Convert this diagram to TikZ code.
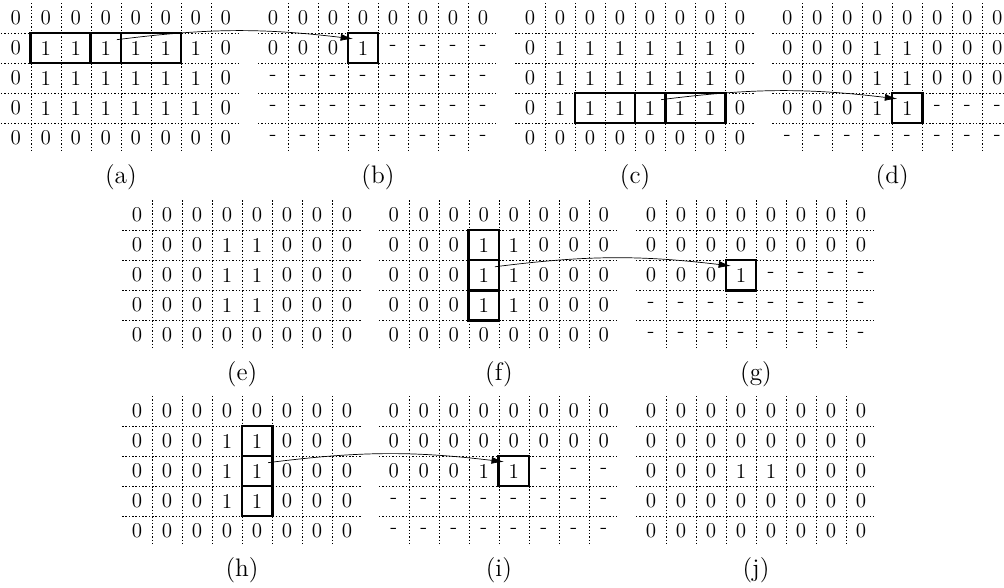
\documentclass[tikz,border=0pt]{standalone}
\usepackage{amsfonts, amsmath}
\usepackage{tikz}
\usetikzlibrary{arrows.meta}

\begin{document}
\begin{tikzpicture}[x=0.6cm,y=0.6cm,
cell/.style={minimum size=0.6cm,inner sep=0pt,font=\large},
gridline/.style={dash pattern=on 0.8pt off 1.1pt},
window/.style={line width=1.3pt},
link/.style={-{Latex[length=7pt,width=4pt]},bend left=7}]
\useasboundingbox (0,0) rectangle (33.467,-19.6);
\clip (0,0) rectangle (33.467,-19.6);

%dotted grids and captions
\foreach \g/\gx/\gy in {a/0.03/0.1,b/8.6/0.1,c/17.17/0.1,d/25.74/0.1,e/4.07/6.67,f/12.63/6.67,g/21.2/6.67,h/4.07/13.2,i/12.63/13.2,j/21.2/13.2}{
\begin{scope}[shift={(\gx,-\gy)}]
\foreach \i in {1,...,7} \draw[gridline] (\i,0) -- (\i,-5);
\foreach \j in {1,...,4} \draw[gridline] (0,-\j) -- (8,-\j);
\node[font=\Large] (cap-\g) at (4,-5.8) {(\g)};
\end{scope}}

%first row: horizontal window
\begin{scope}[shift={(0.03,-0.1)}]
\foreach \row [count=\r] in {{0,0,0,0,0,0,0,0},{0,1,1,1,1,1,1,0},{0,1,1,1,1,1,1,0},{0,1,1,1,1,1,1,0},{0,0,0,0,0,0,0,0}}
\foreach \v [count=\c] in \row \node[cell] (a-\r-\c) at (\c-0.5,0.5-\r) {\v};
\end{scope}
\begin{scope}[shift={(8.6,-0.1)}]
\foreach \row [count=\r] in {{0,0,0,0,0,0,0,0},{0,0,0,1,-,-,-,-},{-,-,-,-,-,-,-,-},{-,-,-,-,-,-,-,-},{-,-,-,-,-,-,-,-}}
\foreach \v [count=\c] in \row \node[cell] (b-\r-\c) at (\c-0.5,0.5-\r) {\v};
\end{scope}
\begin{scope}[shift={(17.17,-0.1)}]
\foreach \row [count=\r] in {{0,0,0,0,0,0,0,0},{0,1,1,1,1,1,1,0},{0,1,1,1,1,1,1,0},{0,1,1,1,1,1,1,0},{0,0,0,0,0,0,0,0}}
\foreach \v [count=\c] in \row \node[cell] (c-\r-\c) at (\c-0.5,0.5-\r) {\v};
\end{scope}
\begin{scope}[shift={(25.74,-0.1)}]
\foreach \row [count=\r] in {{0,0,0,0,0,0,0,0},{0,0,0,1,1,0,0,0},{0,0,0,1,1,0,0,0},{0,0,0,1,1,-,-,-},{-,-,-,-,-,-,-,-}}
\foreach \v [count=\c] in \row \node[cell] (d-\r-\c) at (\c-0.5,0.5-\r) {\v};
\end{scope}

%second and third rows: vertical window
\begin{scope}[shift={(4.07,-6.67)}]
\foreach \row [count=\r] in {{0,0,0,0,0,0,0,0},{0,0,0,1,1,0,0,0},{0,0,0,1,1,0,0,0},{0,0,0,1,1,0,0,0},{0,0,0,0,0,0,0,0}}
\foreach \v [count=\c] in \row \node[cell] (e-\r-\c) at (\c-0.5,0.5-\r) {\v};
\end{scope}
\begin{scope}[shift={(12.63,-6.67)}]
\foreach \row [count=\r] in {{0,0,0,0,0,0,0,0},{0,0,0,1,1,0,0,0},{0,0,0,1,1,0,0,0},{0,0,0,1,1,0,0,0},{0,0,0,0,0,0,0,0}}
\foreach \v [count=\c] in \row \node[cell] (f-\r-\c) at (\c-0.5,0.5-\r) {\v};
\end{scope}
\begin{scope}[shift={(21.2,-6.67)}]
\foreach \row [count=\r] in {{0,0,0,0,0,0,0,0},{0,0,0,0,0,0,0,0},{0,0,0,1,-,-,-,-},{-,-,-,-,-,-,-,-},{-,-,-,-,-,-,-,-}}
\foreach \v [count=\c] in \row \node[cell] (g-\r-\c) at (\c-0.5,0.5-\r) {\v};
\end{scope}
\begin{scope}[shift={(4.07,-13.2)}]
\foreach \row [count=\r] in {{0,0,0,0,0,0,0,0},{0,0,0,1,1,0,0,0},{0,0,0,1,1,0,0,0},{0,0,0,1,1,0,0,0},{0,0,0,0,0,0,0,0}}
\foreach \v [count=\c] in \row \node[cell] (h-\r-\c) at (\c-0.5,0.5-\r) {\v};
\end{scope}
\begin{scope}[shift={(12.63,-13.2)}]
\foreach \row [count=\r] in {{0,0,0,0,0,0,0,0},{0,0,0,0,0,0,0,0},{0,0,0,1,1,-,-,-},{-,-,-,-,-,-,-,-},{-,-,-,-,-,-,-,-}}
\foreach \v [count=\c] in \row \node[cell] (i-\r-\c) at (\c-0.5,0.5-\r) {\v};
\end{scope}
\begin{scope}[shift={(21.2,-13.2)}]
\foreach \row [count=\r] in {{0,0,0,0,0,0,0,0},{0,0,0,0,0,0,0,0},{0,0,0,1,1,0,0,0},{0,0,0,0,0,0,0,0},{0,0,0,0,0,0,0,0}}
\foreach \v [count=\c] in \row \node[cell] (j-\r-\c) at (\c-0.5,0.5-\r) {\v};
\end{scope}

%windows and links
\draw[window] (a-2-2.north west) rectangle (a-2-6.south east);\draw[window] (a-2-4.north west) rectangle (a-2-4.south east);
\draw[window] (b-2-4.north west) rectangle (b-2-4.south east);
\draw[link] ([shift={(-2.5pt,-4pt)}]a-2-4.north east) to ([shift={(3pt,-3.5pt)}]b-2-4.north west);
\draw[window] (c-4-3.north west) rectangle (c-4-7.south east);\draw[window] (c-4-5.north west) rectangle (c-4-5.south east);
\draw[window] (d-4-5.north west) rectangle (d-4-5.south east);
\draw[link] ([shift={(-2.5pt,-4pt)}]c-4-5.north east) to ([shift={(3pt,-3.5pt)}]d-4-5.north west);
\draw[window] (f-2-4.north west) rectangle (f-4-4.south east);\draw[window] (f-3-4.north west) rectangle (f-3-4.south east);
\draw[window] (g-3-4.north west) rectangle (g-3-4.south east);
\draw[link] ([shift={(-2.5pt,-4pt)}]f-3-4.north east) to ([shift={(3pt,-3.5pt)}]g-3-4.north west);
\draw[window] (h-2-5.north west) rectangle (h-4-5.south east);\draw[window] (h-3-5.north west) rectangle (h-3-5.south east);
\draw[window] (i-3-5.north west) rectangle (i-3-5.south east);
\draw[link] ([shift={(-2.5pt,-4pt)}]h-3-5.north east) to ([shift={(3pt,-3.5pt)}]i-3-5.north west);
\end{tikzpicture}
\end{document}
